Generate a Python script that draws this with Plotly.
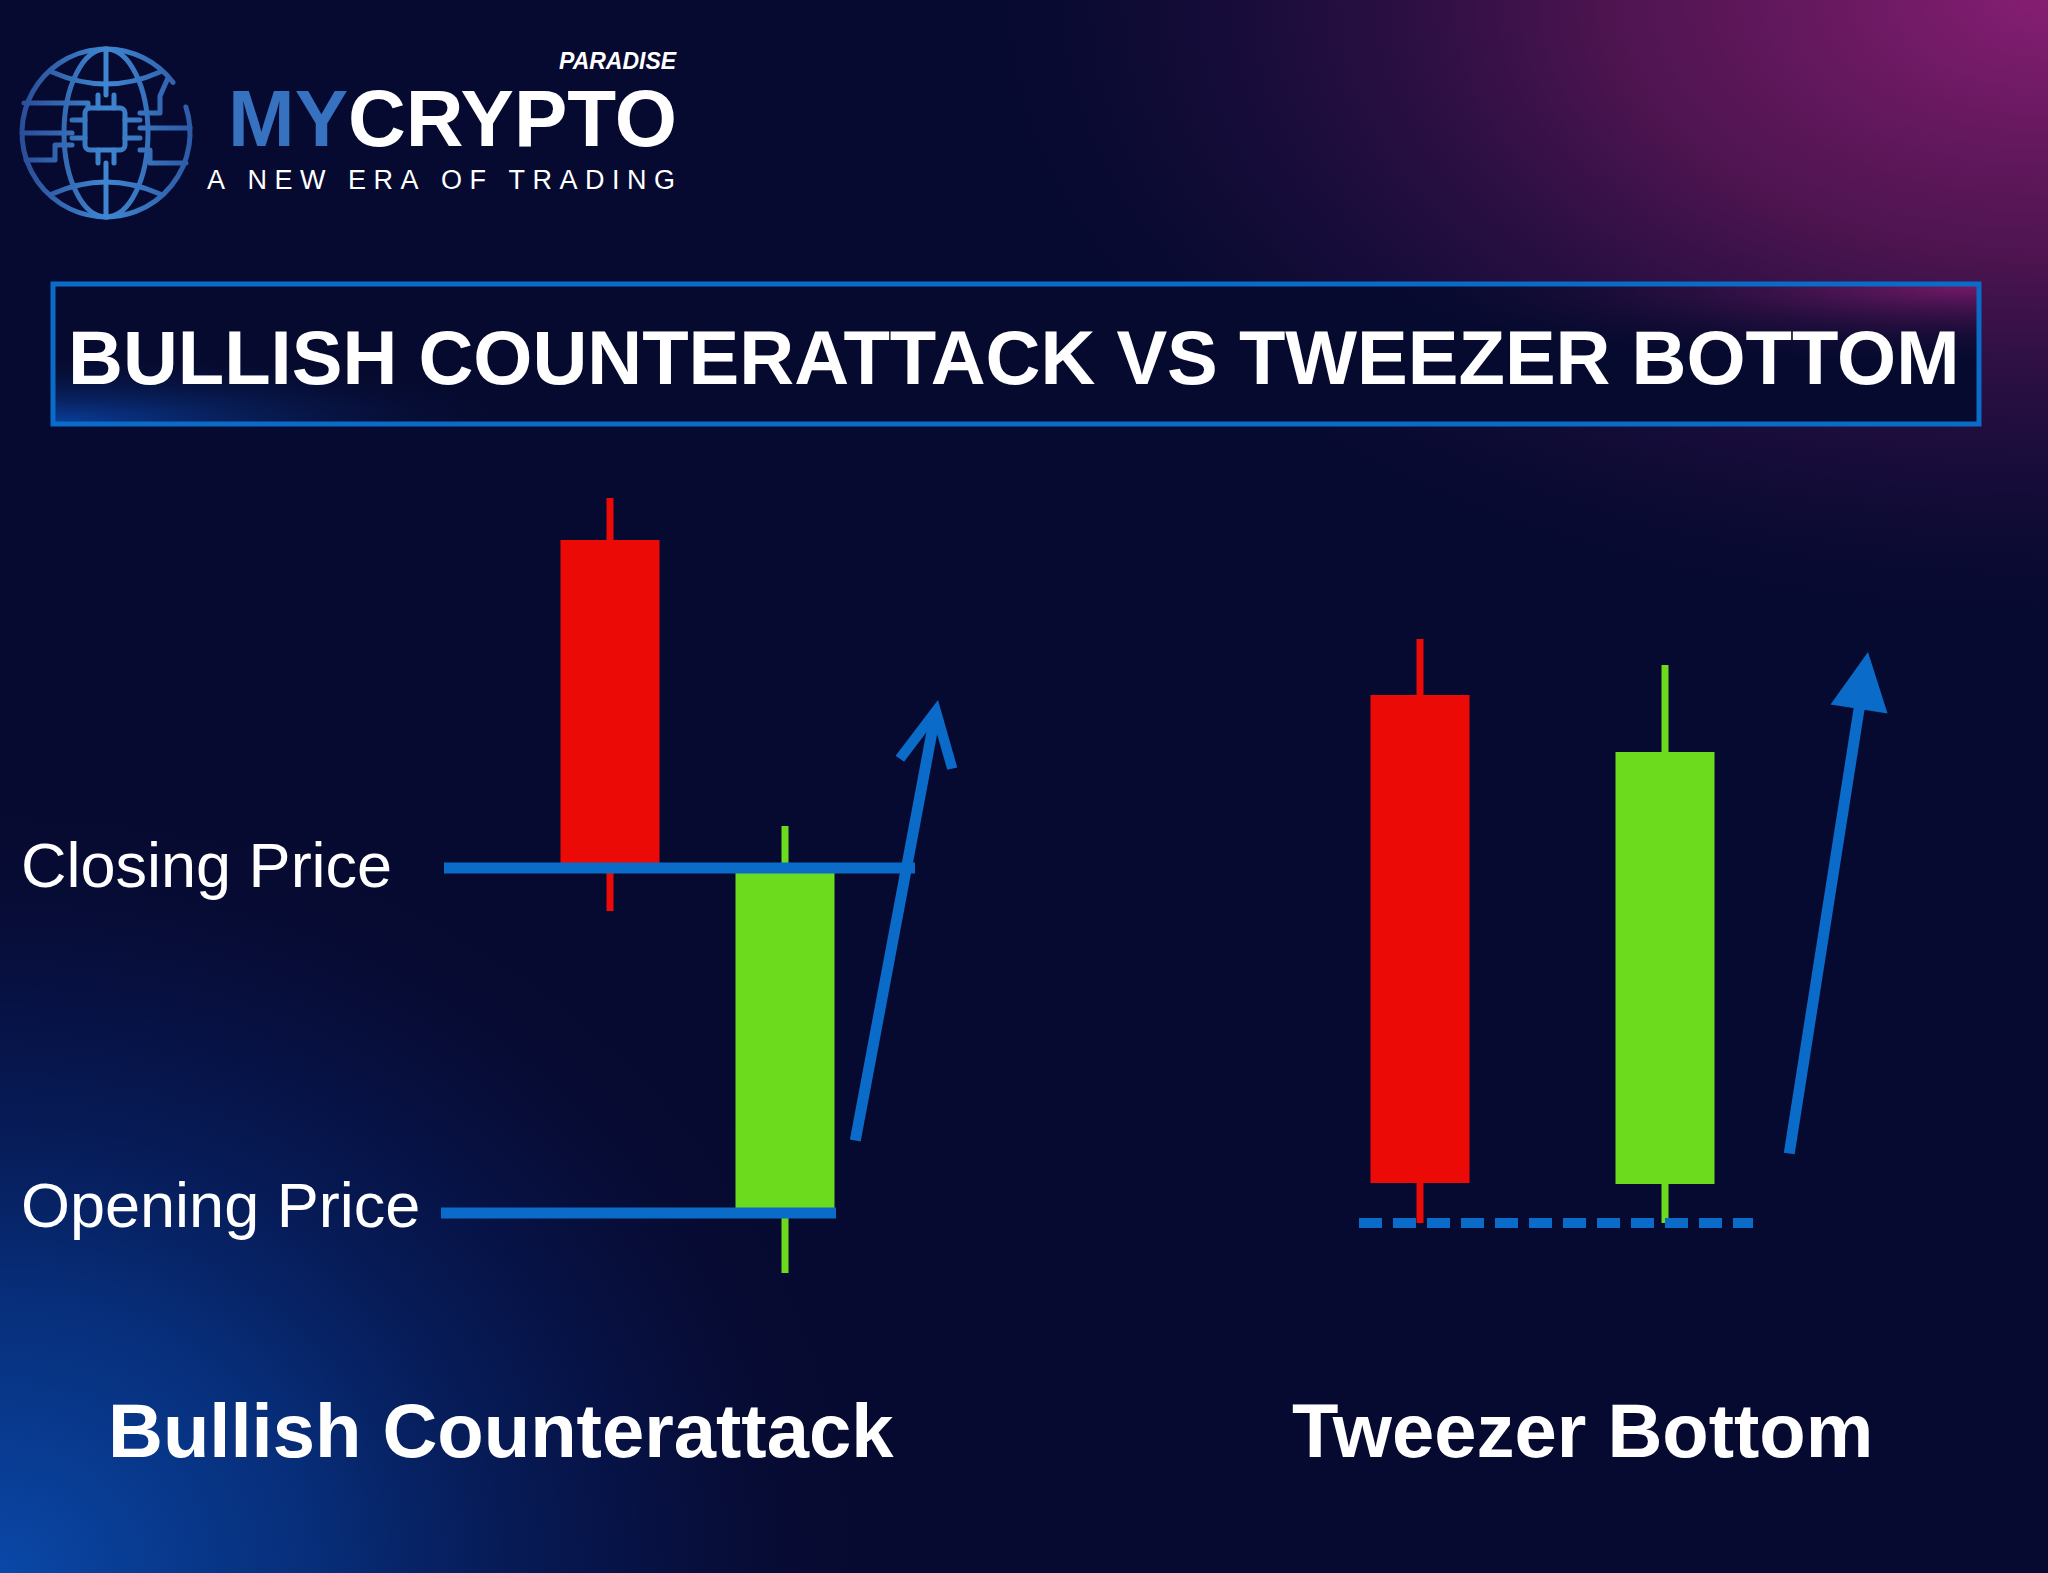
import base64
import plotly.graph_objects as go

W, H = 2048, 1573

# ---------------- data ----------------
pattern_names = ["Bullish Counterattack", "Tweezer Bottom"]
candle_pattern = ["Bullish Counterattack", "Bullish Counterattack", "Tweezer Bottom", "Tweezer Bottom"]
candle_x = [6.10, 7.85, 14.20, 16.65]
open_price = [103.3, 36.0, 87.8, 38.9]
high_price = [107.5, 74.7, 93.4, 90.8]
low_price = [66.2, 30.0, 35.0, 35.0]
close_price = [70.5, 70.5, 39.0, 82.1]
level_labels = ["Closing Price", "Opening Price"]
title_text = "BULLISH COUNTERATTACK VS TWEEZER BOTTOM"

# ---------------- layout constants ----------------
X_RANGE = [0, 20.48]
Y_RANGE = [0, 157.3]
BODY_W = 0.99
CLOSE_LINE_X = (4.44, 9.15)
OPEN_LINE_X = (4.41, 8.36)
SUPPORT_LINE_X = (13.59, 17.53)
ARROW1 = ((8.55, 43.1), (9.38, 87.3))   # tail, tip
ARROW2 = ((17.89, 41.8), (18.68, 92.1))

RED = "#ec0a06"
GREEN = "#6cdb1e"
BLUE = "#0b6bc9"
FONT = "Liberation Sans, Arial, sans-serif"


def px(x):
    return x / W


def py(y):
    return 1 - y / H


# ---------------- background (decorative) ----------------
svg = f"""<svg xmlns='http://www.w3.org/2000/svg' width='{W}' height='{H}' viewBox='0 0 {W} {H}'>
<defs>
<radialGradient id='mg' cx='0' cy='0' r='1' gradientUnits='userSpaceOnUse' gradientTransform='translate(2048 0) scale(1100 640)'>
<stop offset='0' stop-color='#861e72' stop-opacity='1'/>
<stop offset='0.4' stop-color='#5a1656' stop-opacity='0.85'/>
<stop offset='0.75' stop-color='#2a0f45' stop-opacity='0.45'/>
<stop offset='1' stop-color='#070a30' stop-opacity='0'/>
</radialGradient>
<radialGradient id='bl' cx='0' cy='0' r='1' gradientUnits='userSpaceOnUse' gradientTransform='translate(0 1573) scale(900 800)'>
<stop offset='0' stop-color='#0a48a8' stop-opacity='1'/>
<stop offset='0.35' stop-color='#07378c' stop-opacity='0.8'/>
<stop offset='0.7' stop-color='#061f66' stop-opacity='0.4'/>
<stop offset='1' stop-color='#070a30' stop-opacity='0'/>
</radialGradient>
<radialGradient id='bm' cx='0' cy='0' r='1' gradientUnits='userSpaceOnUse' gradientTransform='translate(1977 287) scale(650 80)'>
<stop offset='0' stop-color='#7a1a6a' stop-opacity='0.95'/>
<stop offset='1' stop-color='#070a30' stop-opacity='0'/>
</radialGradient>
<radialGradient id='bb' cx='0' cy='0' r='1' gradientUnits='userSpaceOnUse' gradientTransform='translate(56 421) scale(500 70)'>
<stop offset='0' stop-color='#0a3f9c' stop-opacity='0.95'/>
<stop offset='1' stop-color='#070a30' stop-opacity='0'/>
</radialGradient>
<linearGradient id='gl' x1='20' y1='0' x2='192' y2='0' gradientUnits='userSpaceOnUse'>
<stop offset='0' stop-color='#2a4c96'/><stop offset='0.5' stop-color='#3f86d0'/><stop offset='1' stop-color='#2d5aa6'/>
</linearGradient>
</defs>
<rect width='{W}' height='{H}' fill='#070a30'/>
<rect width='{W}' height='{H}' fill='url(#mg)'/>
<rect width='{W}' height='{H}' fill='url(#bl)'/>
<rect x='55' y='286' width='1922' height='136' fill='#060a2e'/>
<rect x='55' y='286' width='1922' height='136' fill='url(#bm)'/>
<rect x='55' y='286' width='1922' height='136' fill='url(#bb)'/>
<g fill='none' stroke='url(#gl)' stroke-width='5' stroke-linecap='round' stroke-linejoin='round'>
<path d='M 173.1 82.4 A 84 84 0 1 0 185.9 107.0'/>
<ellipse cx='106' cy='133' rx='42' ry='84'/>
<path d='M 52 72 Q 106 96 160 72'/>
<path d='M 52 194 Q 106 170 160 194'/>
<path d='M 106 49 L 106 95 M 106 163 L 106 217'/>
<rect x='85' y='108' width='40' height='42' rx='5'/>
<path d='M 72 120 L 85 120 M 72 138 L 85 138 M 125 120 L 140 120 M 125 138 L 140 138'/>
<path d='M 98 95 L 98 108 M 114 95 L 114 108 M 98 150 L 98 163 M 114 150 L 114 163'/>
<path d='M 24 103 L 88 103 L 88 108'/>
<path d='M 22 133 L 72 133'/>
<path d='M 26 160 L 55 160 L 55 145 L 72 145'/>
<path d='M 168 78 L 160 96 L 160 113 L 140 113'/>
<path d='M 140 128 L 190 128'/>
<path d='M 140 150 L 150 150 L 150 163 L 186 163'/>
</g>
</svg>"""
bg_uri = "data:image/svg+xml;base64," + base64.b64encode(svg.encode()).decode()

fig = go.Figure()

# wicks
for i in range(len(candle_x)):
    col = GREEN if close_price[i] >= open_price[i] else RED
    fig.add_trace(go.Scatter(
        x=[candle_x[i], candle_x[i]], y=[low_price[i], high_price[i]],
        mode="lines", line=dict(color=col, width=7), hoverinfo="skip", showlegend=False))

# bodies
fig.add_trace(go.Bar(
    x=candle_x,
    base=[min(o, c) for o, c in zip(open_price, close_price)],
    y=[abs(c - o) for o, c in zip(open_price, close_price)],
    width=BODY_W,
    marker=dict(color=[GREEN if c >= o else RED for o, c in zip(open_price, close_price)],
                line=dict(width=0)),
    customdata=candle_pattern, hoverinfo="skip", showlegend=False))

# closing / opening levels (bullish counterattack)
close_level = close_price[0]
open_level = open_price[1]
fig.add_trace(go.Scatter(x=list(CLOSE_LINE_X), y=[close_level, close_level], mode="lines",
                         line=dict(color=BLUE, width=11), hoverinfo="skip", showlegend=False))
fig.add_trace(go.Scatter(x=list(OPEN_LINE_X), y=[open_level, open_level], mode="lines",
                         line=dict(color=BLUE, width=11), hoverinfo="skip", showlegend=False))
# tweezer support (equal lows)
support = min(low_price[2], low_price[3])
fig.add_trace(go.Scatter(x=list(SUPPORT_LINE_X), y=[support, support], mode="lines",
                         line=dict(color=BLUE, width=10, dash="23px,11px"),
                         hoverinfo="skip", showlegend=False))

annotations = []
# arrows
annotations.append(dict(xref="x", yref="y", axref="x", ayref="y",
                        x=ARROW1[1][0], y=ARROW1[1][1], ax=ARROW1[0][0], ay=ARROW1[0][1],
                        text="", showarrow=True, arrowhead=5, arrowsize=0.95, arrowwidth=11,
                        arrowcolor=BLUE, standoff=0))
annotations.append(dict(xref="x", yref="y", axref="x", ayref="y",
                        x=ARROW2[1][0], y=ARROW2[1][1], ax=ARROW2[0][0], ay=ARROW2[0][1],
                        text="", showarrow=True, arrowhead=2, arrowsize=1.05, arrowwidth=11,
                        arrowcolor=BLUE, standoff=0))

# texts
annotations.append(dict(xref="paper", yref="paper", x=px(1013), y=py(357), xanchor="center",
                        yanchor="middle", showarrow=False, text="<b>" + title_text + "</b>",
                        font=dict(family=FONT, size=76, color="white")))
annotations.append(dict(xref="paper", yref="paper", x=px(19), y=py(865), xanchor="left",
                        yanchor="middle", showarrow=False, text=level_labels[0],
                        font=dict(family=FONT, size=63, color="white")))
annotations.append(dict(xref="paper", yref="paper", x=px(19), y=py(1205), xanchor="left",
                        yanchor="middle", showarrow=False, text=level_labels[1],
                        font=dict(family=FONT, size=63, color="white")))
annotations.append(dict(xref="paper", yref="paper", x=px(501), y=py(1430), xanchor="center",
                        yanchor="middle", showarrow=False, text="<b>" + pattern_names[0] + "</b>",
                        font=dict(family=FONT, size=76, color="white")))
annotations.append(dict(xref="paper", yref="paper", x=px(1582), y=py(1430), xanchor="center",
                        yanchor="middle", showarrow=False, text="<b>" + pattern_names[1] + "</b>",
                        font=dict(family=FONT, size=76, color="white")))
# logo texts
annotations.append(dict(xref="paper", yref="paper", x=px(226), y=py(119), xanchor="left",
                        yanchor="middle", showarrow=False,
                        text="<b><span style='color:#3672c0'>MY</span>CRYPTO</b>",
                        font=dict(family=FONT, size=80, color="white")))
annotations.append(dict(xref="paper", yref="paper", x=px(679), y=py(61), xanchor="right",
                        yanchor="middle", showarrow=False, text="<b><i>PARADISE</i></b>",
                        font=dict(family=FONT, size=23, color="white")))
tag = "A NEW ERA OF TRADING"
spaced = "\u00a0\u00a0\u00a0".join("\u00a0".join(list(w)) for w in tag.split(" "))
annotations.append(dict(xref="paper", yref="paper", x=px(205), y=py(180), xanchor="left",
                        yanchor="middle", showarrow=False, text=spaced,
                        font=dict(family=FONT, size=27, color="white")))

fig.update_layout(
    width=W, height=H, margin=dict(l=0, r=0, t=0, b=0),
    paper_bgcolor="#070a30", plot_bgcolor="rgba(0,0,0,0)",
    xaxis=dict(range=X_RANGE, visible=False, showgrid=False, zeroline=False, fixedrange=True),
    yaxis=dict(range=Y_RANGE, visible=False, showgrid=False, zeroline=False, fixedrange=True),
    showlegend=False,
    annotations=annotations,
    shapes=[dict(type="rect", xref="paper", yref="paper", x0=px(53), x1=px(1979),
                 y0=py(284), y1=py(424), line=dict(color="#0a6cc8", width=5),
                 fillcolor="rgba(0,0,0,0)")],
    images=[dict(source=bg_uri, xref="paper", yref="paper", x=0, y=1, sizex=1, sizey=1,
                 xanchor="left", yanchor="top", sizing="stretch", layer="below")],
)

fig.write_html("out.html", config={"displayModeBar": False})
